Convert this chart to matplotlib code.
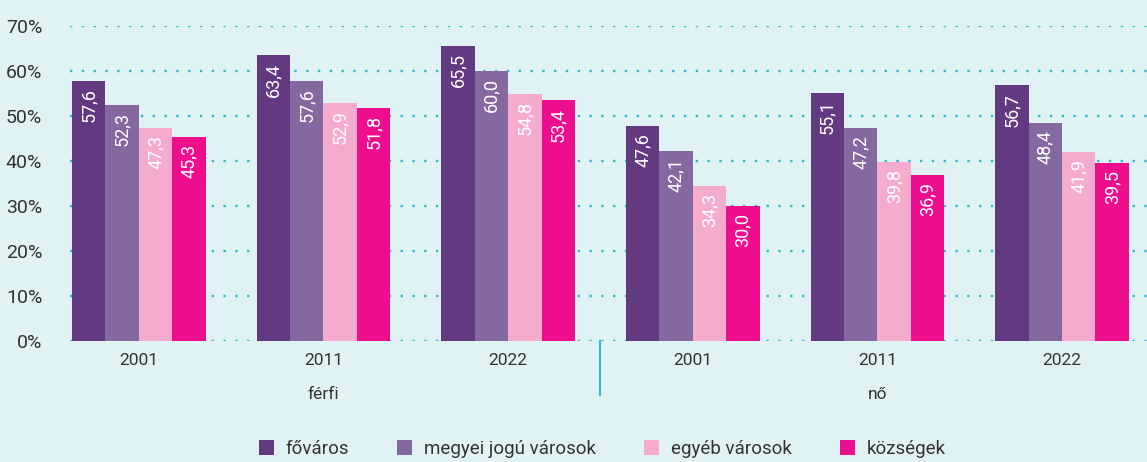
import numpy as np
import matplotlib
matplotlib.use('Agg')
import matplotlib.pyplot as plt
from matplotlib.transforms import blended_transform_factory

plt.rcParams['font.family'] = ['Roboto', 'DejaVu Sans']

# Data
years = ['2001', '2011', '2022', '2001', '2011', '2022']
sexes = ['férfi', 'nő']
series = ['főváros', 'megyei jogú városok', 'egyéb városok', 'községek']
fovaros = [57.6, 63.4, 65.5, 47.6, 55.1, 56.7]
megyei = [52.3, 57.6, 60.0, 42.1, 47.2, 48.4]
egyeb = [47.3, 52.9, 54.8, 34.3, 39.8, 41.9]
kozsegek = [45.3, 51.8, 53.4, 30.0, 36.9, 39.5]
yticks = [0, 10, 20, 30, 40, 50, 60, 70]

colors = ['#633a82', '#8468a0', '#f5abcd', '#ee0d8d']
bg = '#e0f2f4'
teal = '#29bccb'
textc = '#333333'

fig = plt.figure(figsize=(11.47, 4.62), dpi=100, facecolor=bg)
ax = fig.add_axes([0.061, 0.2626, 0.939, 0.682], facecolor=bg)

x = np.arange(len(years))
width = 0.181
values = [fovaros, megyei, egyeb, kozsegek]
for i, (name, vals) in enumerate(zip(series, values)):
    offset = (i - 1.5) * width
    bars = ax.bar(x + offset, vals, width, color=colors[i], label=name, zorder=3)
    for b, v in zip(bars, vals):
        ax.text(b.get_x() + b.get_width() / 2, v - 1.6, f'{v:.1f}'.replace('.', ','),
                rotation=90, ha='center', va='top', color='white', fontsize=13, zorder=4)

ax.set_xlim(-0.373, 5.46)
ax.set_ylim(0, 70)
ax.set_yticks(yticks)
ax.set_yticklabels([f'{t}%' for t in yticks], fontsize=14, color=textc)
ax.set_xticks(x)
ax.set_xticklabels(years, fontsize=12.5, color=textc)
ax.tick_params(axis='both', length=0)
ax.tick_params(axis='x', pad=9)
ax.tick_params(axis='y', pad=20)
for s in ax.spines.values():
    s.set_visible(False)
ax.grid(axis='y', color=teal, linestyle=(0, (1, 4)), linewidth=1.7, zorder=1)

# group labels
trans = blended_transform_factory(ax.transData, ax.transAxes)
for g, lab in enumerate(sexes):
    ax.text(1 + 3 * g, -0.172, lab, transform=trans, ha='center', va='center',
            fontsize=12.5, color=textc)

# separator
ax.plot([2.5, 2.5], [0, -0.172], transform=trans, color=teal, linewidth=1.5,
        clip_on=False, zorder=5)

fig.legend(loc='center', bbox_to_anchor=(0.525, 0.028), ncol=4, frameon=False,
           fontsize=13.5, handlelength=0.8, handleheight=0.8, columnspacing=2.6,
           handletextpad=0.6, labelcolor=textc)

fig.savefig('out.png', dpi=100, facecolor=bg)
